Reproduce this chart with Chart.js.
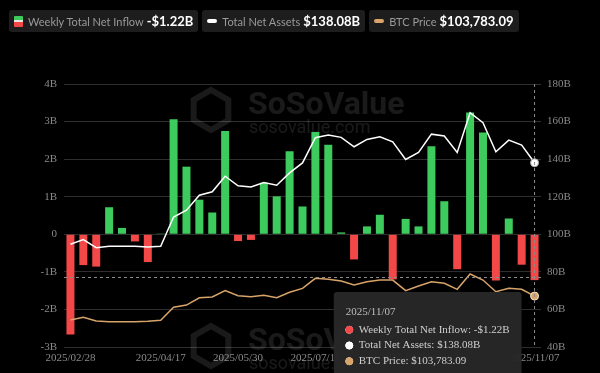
<!DOCTYPE html>
<html>
<head>
<meta charset="utf-8">
<script src="https://cdn.jsdelivr.net/npm/chart.js@4.4.0/dist/chart.umd.min.js"></script>
<style>
    html, body { margin: 0; padding: 0; background: #000; width: 600px; height: 373px; overflow: hidden; }
    #wrap { position: relative; width: 600px; height: 400px; }
    #legend { position: absolute; top: 10px; left: 9px; display: flex; gap: 4px; z-index: 2; font-family: Lato, sans-serif; }
    .item { display: flex; align-items: center; height: 22px; padding: 0 5px; background: #1d1d1d; border-radius: 3px; white-space: nowrap; }
    .item .lbl { color: #9a9a9a; font-size: 11px; margin-left: 5px; }
    .item .val { color: #fff; font-size: 13px; font-weight: bold; margin-left: 3px; }
    .icon-flow { width: 9px; height: 11px; border-radius: 1px; background: linear-gradient(#3ecb5d 0 40%, #e6e6e6 40% 55%, #f24848 55%); }
    .icon-line { width: 10px; height: 4px; border-radius: 2px; }
</style>
</head>
<body>
<div id="wrap">
    <div id="legend"></div>
    <canvas id="flow-chart" width="600" height="400"></canvas>
</div>
<script>
const weeks = [
    '2025/02/28', '2025/03/07', '2025/03/14', '2025/03/21', '2025/03/28', '2025/04/04',
    '2025/04/11', '2025/04/17', '2025/04/25', '2025/05/02', '2025/05/09', '2025/05/16',
    '2025/05/23', '2025/05/30', '2025/06/06', '2025/06/13', '2025/06/20', '2025/06/27',
    '2025/07/03', '2025/07/11', '2025/07/18', '2025/07/25', '2025/08/01', '2025/08/08',
    '2025/08/15', '2025/08/22', '2025/08/29', '2025/09/05', '2025/09/12', '2025/09/19',
    '2025/09/26', '2025/10/03', '2025/10/10', '2025/10/17', '2025/10/24', '2025/10/31',
    '2025/11/07'
];

// weekly total net inflow, billions USD
const netInflow = [
    -2.67, -0.82, -0.86, 0.72, 0.17, -0.19, -0.74, 0.02, 3.06, 1.80, 0.92, 0.58,
    2.75, -0.18, -0.15, 1.37, 1.01, 2.21, 0.74, 2.72, 2.38, 0.05, -0.67, 0.21,
    0.52, -1.20, 0.41, 0.21, 2.34, 0.88, -0.93, 3.24, 2.71, -1.23, 0.42, -0.81,
    -1.22
];

// total net assets, billions USD
const totalNetAssets = [
    94.7, 97.2, 92.9, 93.6, 93.6, 93.6, 93.2, 93.6, 109.2, 112.8, 120.8, 122.6,
    130.9, 125.8, 125.2, 127.6, 126.1, 132.7, 138.0, 151.4, 152.8, 151.6, 146.6, 150.5,
    151.9, 149.2, 139.8, 143.6, 153.3, 152.3, 143.6, 164.7, 159.4, 143.9, 150.1, 147.5,
    138.08
];

// BTC price, USD
const btcPrice = [
    84100, 86400, 83300, 82700, 82700, 82700, 83100, 83900, 94600, 96400, 102400, 103000,
    108200, 104100, 103200, 104400, 102400, 106900, 110100, 118300, 117500, 116100, 112800, 115500,
    116900, 116900, 108200, 112000, 115500, 114200, 109300, 121900, 116900, 107300, 110100, 109300,
    103783.09
];

const shownDateIdx = [0, 7, 13, 19, 26, 36];
const hoverIndex = weeks.length - 1;
const hoverInflowLevel = -1.15;

const GREEN = '#3ecb5d';
const RED = '#f24848';
const ORANGE = '#d8a46a';
const AXIS_TEXT = '#8a8a8a';
const SERIF = "'Liberation Serif', 'DejaVu Serif', serif";

function fmtB(v) {
    return (v < 0 ? '-' : '') + '$' + Math.abs(v).toFixed(2) + 'B';
}
function fmtUsd(v) {
    return '$' + v.toLocaleString('en-US', { minimumFractionDigits: 2, maximumFractionDigits: 2 });
}

// legend strip
const last = weeks.length - 1;
document.getElementById('legend').innerHTML =
    '<div class="item"><span class="icon-flow"></span><span class="lbl">Weekly Total Net Inflow</span><span class="val">' + fmtB(netInflow[last]) + '</span></div>' +
    '<div class="item"><span class="icon-line" style="background:#fff"></span><span class="lbl">Total Net Assets</span><span class="val">' + fmtB(totalNetAssets[last]) + '</span></div>' +
    '<div class="item"><span class="icon-line" style="background:' + ORANGE + '"></span><span class="lbl">BTC Price</span><span class="val">' + fmtUsd(btcPrice[last]) + '</span></div>';

const barColors = netInflow.map(v => v >= 0 ? GREEN : RED);

Chart.Tooltip.positioners.fixedBox = function (items) {
    if (!items.length) return false;
    const area = this.chart.chartArea;
    return { x: items[0].element.x - 16, y: area.bottom - 55 };
};

const watermark = {
    id: 'watermark',
    beforeDatasetsDraw(chart) {
        const { ctx } = chart;
        const cx = chart.width / 2;
        const top = chart.chartArea.top;
        ctx.save();
        ctx.fillStyle = 'rgba(255,255,255,0.10)';
        ctx.strokeStyle = 'rgba(255,255,255,0.10)';
        [30, 266].forEach(off => {
            const base = top + off;
            // hexagon mark
            const hx = cx - 89, hy = base - 4, r = 20;
            ctx.lineWidth = 6;
            ctx.beginPath();
            for (let k = 0; k < 6; k++) {
                const a = Math.PI / 3 * k - Math.PI / 2;
                const px = hx + r * Math.cos(a), py = hy + r * Math.sin(a);
                k === 0 ? ctx.moveTo(px, py) : ctx.lineTo(px, py);
            }
            ctx.closePath();
            ctx.stroke();
            ctx.font = 'bold 32px Roboto, sans-serif';
            ctx.textBaseline = 'alphabetic';
            ctx.fillText('SoSoValue', cx - 52, base);
            ctx.font = '18px Roboto, sans-serif';
            ctx.fillText('sosovalue.com', cx - 51, base + 19);
        });
        ctx.restore();
    }
};

const crosshair = {
    id: 'crosshair',
    afterDatasetsDraw(chart) {
        const active = chart.getActiveElements();
        if (!active.length) return;
        const { ctx, chartArea: a } = chart;
        const x = active[0].element.x;
        const y = chart.scales.y.getPixelForValue(hoverInflowLevel);
        ctx.save();
        ctx.strokeStyle = '#8c8c8c';
        ctx.lineWidth = 1;
        ctx.setLineDash([3, 3]);
        ctx.beginPath();
        ctx.moveTo(x, a.top);
        ctx.lineTo(x, a.bottom);
        ctx.moveTo(a.left, y);
        ctx.lineTo(a.right, y);
        ctx.stroke();
        ctx.restore();
    }
};

const ctx = document.getElementById('flow-chart');
const chart = new Chart(ctx, {
    data: {
        labels: weeks,
        datasets: [
            {
                type: 'bar',
                label: 'Weekly Total Net Inflow',
                data: netInflow,
                yAxisID: 'y',
                backgroundColor: barColors,
                hoverBackgroundColor: barColors,
                barPercentage: 0.62,
                categoryPercentage: 1,
                order: 2
            },
            {
                type: 'line',
                label: 'Total Net Assets',
                data: totalNetAssets,
                yAxisID: 'y1',
                borderColor: '#ffffff',
                borderWidth: 1.5,
                pointRadius: 0,
                pointHoverRadius: 4,
                pointHoverBackgroundColor: '#ffffff',
                pointHoverBorderColor: '#aaaaaa',
                pointHoverBorderWidth: 1,
                tension: 0,
                order: 0
            },
            {
                type: 'line',
                label: 'BTC Price',
                data: btcPrice,
                yAxisID: 'y2',
                borderColor: ORANGE,
                borderWidth: 1.5,
                pointRadius: 0,
                pointHoverRadius: 4,
                pointHoverBackgroundColor: ORANGE,
                pointHoverBorderColor: '#f3e6d4',
                pointHoverBorderWidth: 1,
                tension: 0,
                order: 1
            }
        ]
    },
    options: {
        responsive: false,
        animation: false,
        layout: { padding: { top: 84, bottom: 27, left: 0, right: 0 } },
        interaction: { mode: 'index', intersect: false },
        scales: {
            x: {
                offset: true,
                grid: { display: false },
                border: { display: false },
                ticks: {
                    color: AXIS_TEXT,
                    font: { family: SERIF, size: 11 },
                    autoSkip: false,
                    maxRotation: 0,
                    padding: -3,
                    callback: (val, i) => shownDateIdx.includes(i) ? weeks[i] : ''
                },
                afterFit: s => { s.height = 26; }
            },
            y: {
                position: 'left',
                min: -3,
                max: 4,
                ticks: {
                    stepSize: 1,
                    color: AXIS_TEXT,
                    font: { family: SERIF, size: 11 },
                    padding: 7,
                    callback: v => v === 0 ? '0' : v + 'B'
                },
                grid: { color: '#2e2e2e', drawTicks: false },
                border: { display: false },
                afterFit: s => { s.width = 64; }
            },
            y1: {
                position: 'right',
                min: 40,
                max: 180,
                ticks: {
                    stepSize: 20,
                    color: AXIS_TEXT,
                    font: { family: SERIF, size: 11 },
                    padding: 6,
                    callback: v => v + 'B'
                },
                grid: { display: false, drawTicks: false },
                border: { display: false },
                afterFit: s => { s.width = 59; }
            },
            y2: {
                display: false,
                min: 62000,
                max: 277700
            }
        },
        plugins: {
            legend: { display: false },
            tooltip: {
                enabled: true,
                mode: 'index',
                intersect: false,
                position: 'fixedBox',
                xAlign: 'right',
                yAlign: 'top',
                backgroundColor: 'rgba(40,40,40,0.96)',
                titleColor: '#bdbdbd',
                bodyColor: '#cfcfcf',
                titleFont: { family: SERIF, size: 11, weight: 'normal' },
                bodyFont: { family: SERIF, size: 11 },
                padding: { top: 14, left: 12, right: 12, bottom: 14 },
                titleMarginBottom: 4,
                bodySpacing: 2.5,
                caretSize: 0,
                caretPadding: 0,
                cornerRadius: 3,
                usePointStyle: true,
                boxWidth: 7,
                boxHeight: 7,
                boxPadding: 4,
                itemSort: (a, b) => a.datasetIndex - b.datasetIndex,
                callbacks: {
                    title: items => weeks[items[0].dataIndex],
                    label: function (context) {
                        const v = context.raw;
                        if (context.datasetIndex === 0) return 'Weekly Total Net Inflow: ' + fmtB(v);
                        if (context.datasetIndex === 1) return 'Total Net Assets: ' + fmtB(v);
                        return 'BTC Price: ' + fmtUsd(v);
                    },
                    labelColor: function (context) {
                        let c = ORANGE;
                        if (context.datasetIndex === 0) c = context.raw >= 0 ? GREEN : RED;
                        if (context.datasetIndex === 1) c = '#ffffff';
                        return { borderColor: c, backgroundColor: c };
                    },
                    labelPointStyle: () => ({ pointStyle: 'circle', rotation: 0 })
                }
            }
        }
    },
    plugins: [watermark, crosshair]
});

// show the hover state on the last week
const activeEls = [0, 1, 2].map(d => ({ datasetIndex: d, index: hoverIndex }));
chart.setActiveElements(activeEls);
const lastBar = chart.getDatasetMeta(0).data[hoverIndex];
chart.tooltip.setActiveElements(activeEls, { x: lastBar.x, y: chart.scales.y.getPixelForValue(hoverInflowLevel) });
chart.update();
</script>
</body>
</html>
